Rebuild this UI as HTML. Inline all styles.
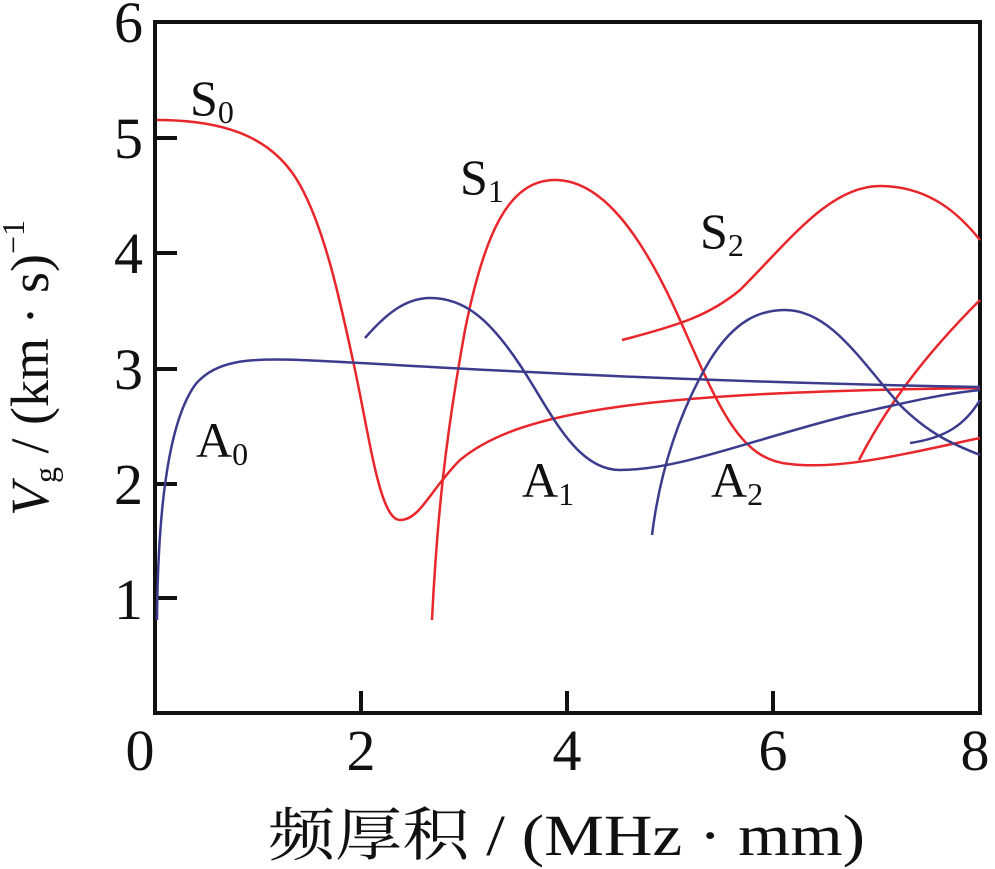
<!DOCTYPE html>
<html><head><meta charset="utf-8"><style>
html,body{margin:0;padding:0;background:#fff;}
svg{display:block;}
text{font-family:"Liberation Serif","Noto Serif CJK SC",serif;fill:#111;}
</style></head><body>
<svg width="995" height="869" viewBox="0 0 995 869" xmlns="http://www.w3.org/2000/svg">
<g stroke="#111" stroke-width="4" fill="none">
<rect x="155" y="22" width="825" height="691"/>
<path d="M155 598h22M155 484h22M155 369h22M155 253h22M155 138h22M361 713v-22M567 713v-22M773 713v-22"/>
</g>
<g font-size="58" text-anchor="end">
<text x="143" y="42">6</text><text x="143" y="158">5</text><text x="143" y="273">4</text>
<text x="143" y="389">3</text><text x="143" y="504">2</text><text x="143" y="619">1</text>
</g>
<g font-size="58" text-anchor="middle">
<text x="140" y="770">0</text><text x="361" y="770">2</text><text x="567" y="770">4</text><text x="773" y="770">6</text><text x="975" y="770">8</text>
</g>
<text x="268" y="855" font-size="58" textLength="597" lengthAdjust="spacingAndGlyphs">频厚积 / (MHz · mm)</text>
<text transform="translate(48,368) rotate(-90)" font-size="54" text-anchor="middle"><tspan font-style="italic">V</tspan><tspan font-size="32" dy="8">g</tspan><tspan dy="-8"> / (km · s)</tspan><tspan font-size="32" dy="-24">−1</tspan></text>
<g font-size="50">
<text x="190" y="115">S<tspan font-size="32" dy="8">0</tspan></text>
<text x="460" y="194">S<tspan font-size="32" dy="8">1</tspan></text>
<text x="700" y="248">S<tspan font-size="32" dy="8">2</tspan></text>
<text x="196" y="457">A<tspan font-size="32" dy="8">0</tspan></text>
<text x="522" y="497">A<tspan font-size="32" dy="8">1</tspan></text>
<text x="711" y="497">A<tspan font-size="32" dy="8">2</tspan></text>
</g>
<g fill="none" stroke="#e8262b" stroke-width="2.5">
<path d="M157 120 C230 120 275 140 300 185 C325 230 340 300 355 370 C370 440 380 520 400 520 C420 520 430 490 460 460 C520 410 650 392 980 388"/>
<path d="M432 620 C437 520 445 440 465 330 C485 230 510 180 555 180 C600 180 640 230 680 320 C720 410 740 460 790 464 C840 470 900 455 980 438"/>
<path d="M622 340 C680 325 710 315 740 290 C790 240 830 186 880 186 C930 186 960 215 980 240"/>
<path d="M859 460 C885 410 920 360 980 300"/>
</g>
<g fill="none" stroke="#3c3c8e" stroke-width="2.5">
<path d="M157 620 C158 500 170 420 195 385 C215 360 250 358 300 360 C400 364 600 380 980 387"/>
<path d="M365 338 C385 315 405 298 430 298 C465 298 490 320 520 365 C550 410 575 470 620 470 C680 470 750 440 850 415 C900 404 940 394 980 390"/>
<path d="M652 535 C660 470 680 410 710 360 C735 320 760 310 785 310 C830 310 860 360 900 405 C930 435 955 445 980 455"/>
<path d="M910 443 C945 438 965 425 980 400"/>
</g>
</svg>
</body></html>
